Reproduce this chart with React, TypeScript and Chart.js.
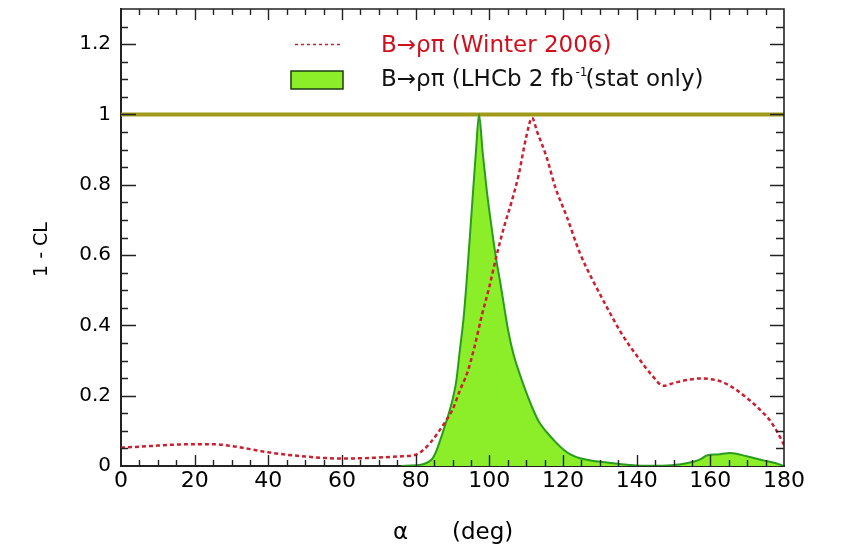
import { useEffect, useRef } from 'react';
import { Chart, registerables } from 'chart.js';

Chart.register(...registerables);

// B -> rho pi constraint on alpha: Winter 2006 world average
const alphaWinter = [0, 5, 10, 15, 20, 25, 30, 35, 40, 45, 50, 55, 60, 65, 70, 75, 80, 82, 84, 86, 88, 90, 92, 94, 96, 98, 100, 102, 104, 106, 108, 110, 111.6, 113, 115.5, 118, 121, 124.6, 128, 132, 136, 141, 144, 147.3, 150, 154, 157, 160, 163, 167, 170, 172, 174, 176, 178, 180];
const clWinter = [0.052, 0.055, 0.058, 0.061, 0.062, 0.062, 0.057, 0.048, 0.039, 0.032, 0.027, 0.023, 0.021, 0.022, 0.024, 0.027, 0.032, 0.045, 0.066, 0.094, 0.125, 0.16, 0.215, 0.265, 0.34, 0.43, 0.51, 0.6, 0.68, 0.75, 0.83, 0.935, 0.99, 0.95, 0.88, 0.79, 0.71, 0.605, 0.53, 0.45, 0.375, 0.3, 0.26, 0.228, 0.236, 0.245, 0.249, 0.247, 0.24, 0.217, 0.193, 0.175, 0.155, 0.132, 0.1, 0.06];

// B -> rho pi constraint on alpha: LHCb 2 fb-1 projection (stat only)
const alphaLHCb = [76, 80, 82, 83.5, 84.5, 85.5, 87.5, 89, 90.2, 91, 92, 93, 93.8, 94.7, 95.6, 96.4, 97.2, 98.2, 99.3, 100.2, 101.1, 102, 103, 104, 105.1, 106.5, 108.3, 110, 111.9, 113.5, 115.6, 118, 120.1, 122, 124.6, 128, 133.7, 138, 141, 147, 152, 155.4, 157.5, 159, 162, 165.3, 169.9, 174.4, 178, 180];
const clLHCb = [0, 0.002, 0.005, 0.012, 0.02, 0.04, 0.1, 0.15, 0.197, 0.24, 0.33, 0.42, 0.52, 0.65, 0.784, 0.9, 1.0, 0.89, 0.784, 0.71, 0.642, 0.58, 0.52, 0.455, 0.386, 0.32, 0.26, 0.21, 0.16, 0.125, 0.096, 0.068, 0.047, 0.033, 0.022, 0.015, 0.008, 0.003, 0.001, 0.001, 0.005, 0.012, 0.02, 0.03, 0.033, 0.037, 0.028, 0.016, 0.007, 0];

// Reference level 1 - CL = 1
const alphaLevel = [0, 180];
const clLevel = [1, 1];

const xTickValues = [0, 20, 40, 60, 80, 100, 120, 140, 160, 180];
const yTickValues = [0, 0.2, 0.4, 0.6, 0.8, 1, 1.2];

const legendWinter = 'B\u2192\u03c1\u03c0 (Winter 2006)';
const legendLHCb = 'B\u2192\u03c1\u03c0 (LHCb 2 fb';
const legendLHCbSup = '-1';
const legendLHCbTail = '(stat only)';
const xTitle = '\u03b1      (deg)';
const yTitle = '1 - CL';

const FONT = "'DejaVu Sans', sans-serif";
const RED = '#cc1f2f';
const GREEN_FILL = '#8cee28';
const GREEN_LINE = '#2a9c1c';
const OLIVE = '#a09a18';

const toPoints = (xs: number[], ys: number[]) => xs.map((x, i) => ({ x, y: ys[i] }));

// Frame on top/right plus inward major/minor tick marks on all four sides
const frameTicks = {
  id: 'frameTicks',
  afterDatasetsDraw(chart: any) {
    const { ctx, chartArea, scales } = chart;
    const { left, right, top, bottom } = chartArea;
    const x = scales.x;
    const y = scales.y;
    ctx.save();
    ctx.strokeStyle = '#222';
    ctx.lineWidth = 1.6;
    ctx.beginPath();
    ctx.moveTo(left, top);
    ctx.lineTo(right, top);
    ctx.lineTo(right, bottom);
    ctx.stroke();
    ctx.lineWidth = 1.4;
    ctx.beginPath();
    for (let v = 5; v < 180; v += 5) {
      const px = Math.round(x.getPixelForValue(v)) + 0.5;
      const major = v % 20 === 0;
      const len = major ? 11 : 6;
      ctx.moveTo(px, bottom);
      ctx.lineTo(px, bottom - len);
      ctx.moveTo(px, top);
      ctx.lineTo(px, top + len);
    }
    for (let i = 1; i <= 25; i++) {
      const py = Math.round(y.getPixelForValue(i * 0.05)) + 0.5;
      const major = i % 4 === 0;
      ctx.moveTo(left, py);
      ctx.lineTo(left + (major ? 15 : 7), py);
      ctx.moveTo(right, py);
      ctx.lineTo(right - (major ? 14 : 8), py);
    }
    ctx.stroke();
    ctx.restore();
  },
};

// Legend block and axis captions
const captions = {
  id: 'captions',
  afterDraw(chart: any) {
    const { ctx, chartArea } = chart;
    ctx.save();
    // Winter 2006 entry
    ctx.strokeStyle = RED;
    ctx.lineWidth = 1.5;
    ctx.setLineDash([3, 3]);
    ctx.beginPath();
    ctx.moveTo(295, 44.5);
    ctx.lineTo(343, 44.5);
    ctx.stroke();
    ctx.setLineDash([]);
    ctx.fillStyle = '#d0101e';
    ctx.font = `23px ${FONT}`;
    ctx.textBaseline = 'alphabetic';
    ctx.textAlign = 'left';
    ctx.fillText(legendWinter, 381, 52);
    // LHCb entry
    ctx.fillStyle = GREEN_FILL;
    ctx.fillRect(291, 71, 52, 18);
    ctx.strokeStyle = '#1d3a12';
    ctx.lineWidth = 1.5;
    ctx.strokeRect(291, 71, 52, 18);
    ctx.fillStyle = '#111';
    ctx.font = `23px ${FONT}`;
    ctx.fillText(legendLHCb, 381, 86);
    const w = ctx.measureText(legendLHCb).width;
    ctx.font = `12px ${FONT}`;
    ctx.fillText(legendLHCbSup, 381 + w + 2, 76);
    ctx.font = `23px ${FONT}`;
    ctx.fillText(legendLHCbTail, 381 + w + 12, 86);
    // axis titles
    ctx.fillStyle = '#000';
    ctx.font = `23px ${FONT}`;
    ctx.fillText(xTitle, 393, 539);
    ctx.save();
    ctx.translate(47, (chartArea.top + chartArea.bottom) / 2 + 12);
    ctx.rotate(-Math.PI / 2);
    ctx.textAlign = 'center';
    ctx.font = `19px ${FONT}`;
    ctx.fillText(yTitle, 0, 0);
    ctx.restore();
    ctx.restore();
  },
};

export default function App() {
  const canvasRef = useRef<HTMLCanvasElement | null>(null);

  useEffect(() => {
    const canvas = canvasRef.current;
    if (!canvas) return;
    const chart = new Chart(canvas, {
      type: 'line',
      data: {
        datasets: [
          {
            label: legendWinter,
            data: toPoints(alphaWinter, clWinter),
            borderColor: RED,
            borderWidth: 2.5,
            borderDash: [4, 3],
            pointRadius: 0,
            fill: false,
            cubicInterpolationMode: 'monotone',
          },
          {
            label: legendLHCb + legendLHCbSup + legendLHCbTail,
            data: toPoints(alphaLHCb, clLHCb),
            borderColor: GREEN_LINE,
            borderWidth: 2,
            backgroundColor: GREEN_FILL,
            pointRadius: 0,
            fill: 'origin',
            cubicInterpolationMode: 'monotone',
          },
          {
            label: 'level',
            data: toPoints(alphaLevel, clLevel),
            borderColor: OLIVE,
            borderWidth: 4,
            pointRadius: 0,
            fill: false,
          },
        ],
      },
      options: {
        animation: false,
        responsive: false,
        devicePixelRatio: 1,
        layout: { padding: { left: 0, right: 62, top: 9, bottom: 0 } },
        plugins: {
          legend: { display: false },
          tooltip: { enabled: false },
        },
        scales: {
          x: {
            type: 'linear',
            min: 0,
            max: 180,
            afterBuildTicks: (scale: any) => {
              scale.ticks = xTickValues.map((value) => ({ value }));
            },
            afterFit: (scale: any) => {
              scale.height = 82;
              scale.paddingLeft = 0;
              scale.paddingRight = 0;
            },
            ticks: {
              color: '#000',
              font: { family: FONT, size: 22 },
              padding: 2,
              maxRotation: 0,
              autoSkip: false,
              callback: (v: any) => String(v),
            },
            grid: { display: false, drawTicks: false },
            border: { display: true, color: '#222', width: 2 },
          },
          y: {
            type: 'linear',
            min: 0,
            max: 1.3,
            afterBuildTicks: (scale: any) => {
              scale.ticks = yTickValues.map((value) => ({ value }));
            },
            afterFit: (scale: any) => {
              scale.width = 121;
              scale.paddingTop = 0;
              scale.paddingBottom = 0;
            },
            ticks: {
              color: '#000',
              font: { family: FONT, size: 20 },
              padding: 10,
              autoSkip: false,
              callback: (v: any) => String(parseFloat(Number(v).toFixed(2))),
            },
            grid: { display: false, drawTicks: false },
            border: { display: true, color: '#222', width: 2 },
          },
        },
      },
      plugins: [frameTicks, captions],
    });
    return () => chart.destroy();
  }, []);

  return (
    <div style={{ position: 'absolute', left: 0, top: 0, width: 846, height: 548, background: '#fff' }}>
      <canvas ref={canvasRef} width={846} height={548} style={{ display: 'block' }} />
    </div>
  );
}
